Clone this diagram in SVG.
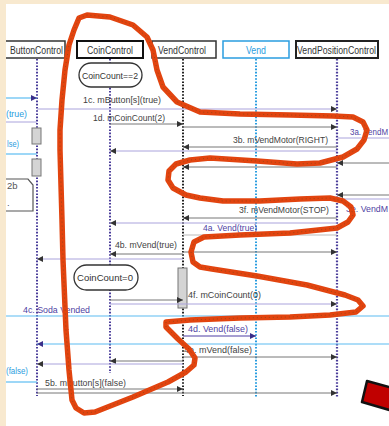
<svg xmlns="http://www.w3.org/2000/svg" width="389" height="426" viewBox="0 0 389 426">
<defs>
<style>
text{font-family:"Liberation Sans",Arial,sans-serif;font-size:9.5px;fill:#3f3f3f}
.hdr{fill:#333;font-size:10px}
.pur{fill:#4f3fa3}
.blu{fill:#2a9de0}
.box{fill:#fff;stroke:#333;stroke-width:1.5}
.g{stroke:#777;stroke-width:1;fill:none}
.l{stroke:#aaa3dc;stroke-width:1;fill:none}
.b{stroke:#5cbcf2;stroke-width:1.2;fill:none}
.p{stroke:#4f3fa3;stroke-width:1.2;fill:none}
.ll{stroke-width:2;stroke-dasharray:1.6 1.6;fill:none}
.act{fill:#d4d4d4;stroke:#777;stroke-width:1}
.state{fill:#fff;stroke:#333;stroke-width:1.3}
</style>
<marker id="ah" viewBox="0 0 8 8" refX="8" refY="4" markerWidth="7" markerHeight="6" markerUnits="userSpaceOnUse" orient="auto"><path d="M0,0 L8,4 L0,8 z" fill="#333"/></marker>
<marker id="ahp" viewBox="0 0 8 8" refX="8" refY="4" markerWidth="7" markerHeight="6" markerUnits="userSpaceOnUse" orient="auto"><path d="M0,0 L8,4 L0,8 z" fill="#3a2f8a"/></marker>
<clipPath id="panel"><rect x="6" y="4" width="383" height="422"/></clipPath>
</defs>
<rect width="389" height="426" fill="#f8e9cf"/>
<rect x="6" y="4" width="383" height="422" fill="#fff"/>
<g clip-path="url(#panel)">
<g id="ButtonControl">
<rect class="box" x="-6" y="41" width="71" height="17"/>
<text class="hdr" x="10" y="54" textLength="53" lengthAdjust="spacingAndGlyphs">ButtonControl</text>
<line class="ll" x1="37" y1="59" x2="37" y2="396" stroke="#4a3d9a"/>
<rect class="act" x="32" y="128" width="9" height="16"/>
<rect class="act" x="32" y="159" width="9" height="17"/>
</g>
<g id="CoinControl">
<rect class="box" x="77" y="41" width="66" height="17" style="stroke:#111;stroke-width:2"/>
<text class="hdr" x="87" y="54" textLength="46" lengthAdjust="spacingAndGlyphs">CoinControl</text>
<line class="ll" x1="110" y1="59" x2="110" y2="373" stroke="#4a3d9a"/>
</g>
<g id="VendControl">
<rect class="box" x="152" y="41" width="64" height="17"/>
<text class="hdr" x="158" y="54" textLength="48" lengthAdjust="spacingAndGlyphs">VendControl</text>
<line class="ll" x1="183" y1="59" x2="183" y2="396" stroke="#222"/>
<rect class="act" x="178" y="268" width="9" height="40"/>
</g>
<g id="Vend">
<rect class="box" x="223" y="41" width="66" height="17" style="stroke:#2a9de0"/>
<text class="hdr blu" x="246" y="54" textLength="20" lengthAdjust="spacingAndGlyphs">Vend</text>
<line class="ll" x1="256" y1="59" x2="256" y2="397" stroke="#2a9de0"/>
</g>
<g id="VendPositionControl">
<rect class="box" x="296" y="41" width="82" height="17" style="stroke:#222;stroke-width:2"/>
<text class="hdr" x="297" y="54" textLength="79" lengthAdjust="spacingAndGlyphs">VendPositionControl</text>
<line class="ll" x1="337" y1="59" x2="337" y2="397" stroke="#4a3d9a" style="stroke-width:2.2"/>
</g>
<g id="state-CoinCount2">
<rect class="state" x="79" y="63" width="63" height="24" rx="12"/>
<text x="82" y="79" textLength="56" lengthAdjust="spacingAndGlyphs" style="fill:#333">CoinCount==2</text>
</g>
<g id="state-CoinCount0">
<rect class="state" x="74" y="265" width="64" height="25" rx="12.5"/>
<text x="77" y="281" textLength="56" lengthAdjust="spacingAndGlyphs" style="fill:#333">CoinCount=0</text>
</g>
<g id="note-2b">
<path d="M-5,179 H28 L33,185 V211 H-5" fill="#fff" stroke="#555" stroke-width="1.2"/>
<text x="7" y="189" style="fill:#555">2b</text>
<text x="7" y="206" style="fill:#555">.</text>
</g>
<g id="connectors">
<line class="b" x1="6" y1="98" x2="37" y2="98" marker-end="url(#ahp)"/>
<line class="l" x1="37" y1="109" x2="337" y2="109" marker-end="url(#ah)"/>
<line class="l" x1="6" y1="122" x2="37" y2="122"/>
<line class="g" x1="110" y1="124" x2="183" y2="124" marker-end="url(#ah)"/>
<line class="g" x1="183" y1="127" x2="337" y2="127" marker-end="url(#ah)"/>
<line class="l" x1="337" y1="138" x2="389" y2="138"/>
<line class="g" x1="337" y1="147" x2="183" y2="147" marker-end="url(#ah)"/>
<line class="l" x1="337" y1="151" x2="110" y2="151" marker-end="url(#ah)"/>
<line class="b" x1="6" y1="154" x2="37" y2="154"/>
<line class="g" x1="389" y1="163" x2="337" y2="163" marker-end="url(#ah)"/>
<line class="g" x1="337" y1="167" x2="183" y2="167" marker-end="url(#ah)"/>
<line class="g" x1="389" y1="195" x2="337" y2="195" marker-end="url(#ah)"/>
<line class="l" x1="337" y1="199" x2="389" y2="199"/>
<line class="g" x1="337" y1="218" x2="183" y2="218" marker-end="url(#ah)"/>
<line class="l" x1="337" y1="223" x2="110" y2="223" marker-end="url(#ah)"/>
<line class="g" x1="183" y1="235" x2="337" y2="235" style="stroke:#bbb"/>
<line class="g" x1="183" y1="252" x2="337" y2="252" marker-end="url(#ah)"/>
<line class="g" x1="183" y1="254" x2="110" y2="254" marker-end="url(#ah)"/>
<line class="l" x1="183" y1="259" x2="37" y2="259" marker-end="url(#ah)"/>
<line class="g" x1="110" y1="300" x2="183" y2="300" marker-end="url(#ah)"/>
<line class="l" x1="110" y1="304" x2="337" y2="304" marker-end="url(#ah)"/>
<line class="b" x1="6" y1="316" x2="389" y2="316"/>
<line class="p" x1="183" y1="336" x2="256" y2="336" marker-end="url(#ahp)"/>
<line class="b" x1="389" y1="344" x2="37" y2="344" marker-end="url(#ahp)"/>
<line class="g" x1="183" y1="357" x2="337" y2="357" marker-end="url(#ah)"/>
<line class="g" x1="183" y1="361" x2="110" y2="361" marker-end="url(#ah)"/>
<line class="l" x1="183" y1="364" x2="37" y2="364" marker-end="url(#ah)"/>
<line class="b" x1="6" y1="382" x2="37" y2="382"/>
<line class="g" x1="37" y1="389" x2="183" y2="389" marker-end="url(#ah)"/>
<line class="g" x1="37" y1="393" x2="337" y2="393" marker-end="url(#ah)"/>
</g>
<g id="labels">
<text x="83" y="103" textLength="78" lengthAdjust="spacingAndGlyphs">1c. mButton[s](true)</text>
<text class="blu" x="6" y="117" textLength="21" lengthAdjust="spacingAndGlyphs">(true)</text>
<text x="93" y="121" textLength="72" lengthAdjust="spacingAndGlyphs">1d. mCoinCount(2)</text>
<text class="pur" x="350" y="135" textLength="38" lengthAdjust="spacingAndGlyphs">3a. VendM</text>
<text x="233" y="143" textLength="95" lengthAdjust="spacingAndGlyphs">3b. mVendMotor(RIGHT)</text>
<text class="blu" x="7" y="147" textLength="12" lengthAdjust="spacingAndGlyphs">lse)</text>
<text class="pur" x="346" y="212" textLength="42" lengthAdjust="spacingAndGlyphs">3e. VendM</text>
<text x="239" y="213" textLength="90" lengthAdjust="spacingAndGlyphs">3f. mVendMotor(STOP)</text>
<text class="pur" x="203" y="231" textLength="54" lengthAdjust="spacingAndGlyphs">4a. Vend(true)</text>
<text x="115" y="248" textLength="62" lengthAdjust="spacingAndGlyphs">4b. mVend(true)</text>
<text x="188" y="298" textLength="73" lengthAdjust="spacingAndGlyphs">4f. mCoinCount(0)</text>
<text class="pur" x="23" y="313" textLength="67" lengthAdjust="spacingAndGlyphs">4c. Soda Vended</text>
<text class="pur" x="188" y="332" textLength="60" lengthAdjust="spacingAndGlyphs">4d. Vend(false)</text>
<text x="184" y="353" textLength="68" lengthAdjust="spacingAndGlyphs">4e. mVend(false)</text>
<text class="blu" x="6" y="374" textLength="22" lengthAdjust="spacingAndGlyphs">(false)</text>
<text x="45" y="386" textLength="81" lengthAdjust="spacingAndGlyphs">5b. mButton[s](false)</text>
</g>
<g id="red-box">
<polygon points="367,381 440,401 434,423 362,402" fill="#c00000" stroke="#111" stroke-width="2.5" stroke-linejoin="round"/>
</g>
<g id="red-loop">
<polygon points="79,18 87,15 110,17 133,25 147,37 153,50 157,70 163,87 177,102 200,112 240,114 290,115 333,116 353,117 363,122 367,130 364,140 357,149 343,157 320,163 297,164 257,161 210,158 190,160 176,164 169,171 168,180 173,188 186,195 200,198 223,201 260,201 300,199 330,198 343,201 351,207 353,215 348,222 337,228 290,233 240,235 204,237 194,242 191,252 193,262 200,267 212,269 257,276 307,285 345,295 358,300 363,306 356,312 330,315 290,317 240,318 190,320 166,322 166,327 178,339 189,349 195,358 194,365 186,372 168,382 133,397 95,412 84,413 76,408 72,400 69,370 66,330 63,260 62,220 60,150 60,130 62,100 65,70 69,45 74,30" fill="none" stroke="#e2440f" stroke-width="5.5" stroke-linejoin="round"/>
<polygon points="79,18 87,15 110,17 133,25 147,37 153,50 157,70 163,87 177,102 200,112 240,114 290,115 333,116 353,117 363,122 367,130 364,140 357,149 343,157 320,163 297,164 257,161 210,158 190,160 176,164 169,171 168,180 173,188 186,195 200,198 223,201 260,201 300,199 330,198 343,201 351,207 353,215 348,222 337,228 290,233 240,235 204,237 194,242 191,252 193,262 200,267 212,269 257,276 307,285 345,295 358,300 363,306 356,312 330,315 290,317 240,318 190,320 166,322 166,327 178,339 189,349 195,358 194,365 186,372 168,382 133,397 95,412 84,413 76,408 72,400 69,370 66,330 63,260 62,220 60,150 60,130 62,100 65,70 69,45 74,30" fill="none" stroke="#5b4a1c" stroke-width="0.8" stroke-dasharray="1 3" stroke-opacity="0.6"/>
</g>
</g>
</svg>
